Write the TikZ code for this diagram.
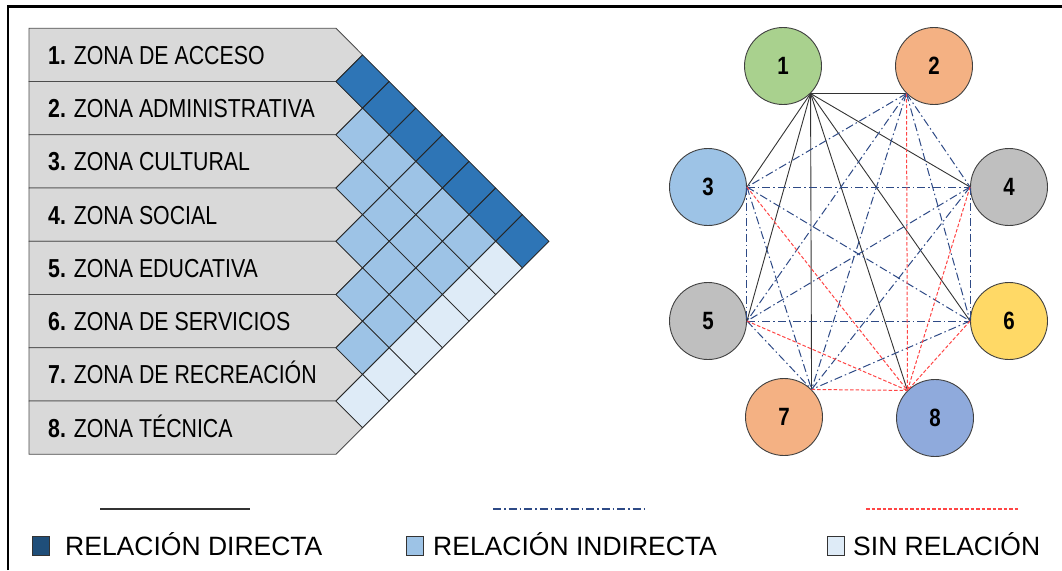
\documentclass[tikz,border=0pt]{standalone}
\usepackage{fontspec}
\setmainfont{Liberation Sans}
\newfontfamily\narrowsf{Liberation Sans}[FakeStretch=0.82]
\usepackage{tikz}

\definecolor{barfill}{HTML}{D9D9D9}
\definecolor{celldir}{HTML}{2E75B6}
\definecolor{cellind}{HTML}{9DC3E6}
\definecolor{cellsin}{HTML}{DEEBF7}
\definecolor{legdir}{HTML}{1F4E79}
\definecolor{linkind}{HTML}{2E4A86}
\definecolor{linksin}{HTML}{FF4545}
\definecolor{zgreen}{HTML}{A9D18E}
\definecolor{zorange}{HTML}{F4B183}
\definecolor{zblue}{HTML}{9DC3E6}
\definecolor{zgrey}{HTML}{BFBFBF}
\definecolor{zyellow}{HTML}{FFD966}
\definecolor{zperi}{HTML}{8FAADC}

\tikzset{
  zone/.style={circle,draw=black!75,line width=0.9pt,minimum size=77pt,inner sep=0pt,
    font=\narrowsf\fontsize{25}{25}\selectfont\bfseries},
  direct/.style={black!80,line width=0.9pt},
  indirect/.style={linkind,line width=1pt,dash pattern=on 8pt off 3pt on 1.5pt off 3pt},
  norel/.style={linksin,line width=1pt,dash pattern=on 3.5pt off 2pt},
  keybox/.style={draw=black!80,line width=0.8pt,minimum width=17pt,minimum height=19pt,inner sep=0pt},
  keytext/.style={anchor=base west,inner sep=0pt,font=\fontsize{26.5}{26.5}\selectfont},
}

\begin{document}
\begin{tikzpicture}[x=1pt,y=-1pt]
  \useasboundingbox (0,0) rectangle (1062,570);
  % frame, cut off at the right and the bottom
  \draw[line width=2.7pt] (8,570) -- (8,6.7) -- (1062,6.7);
  % --- zone bars ---
  \foreach \k/\txt in {1/ZONA DE ACCESO,2/ZONA ADMINISTRATIVA,3/ZONA CULTURAL,4/ZONA SOCIAL,5/ZONA EDUCATIVA,6/ZONA DE SERVICIOS,7/ZONA DE RECREACIÓN,8/ZONA TÉCNICA} {
    \pgfmathsetmacro{\yt}{28.3+53.25*(\k-1)}
    \pgfmathsetmacro{\yc}{\yt+26.625}
    \pgfmathsetmacro{\yb}{\yt+53.25}
    \filldraw[fill=barfill,draw=black!70,line width=0.8pt]
      (29,\yt) -- (336,\yt) -- (362.6,\yc) -- (336,\yb) -- (29,\yb) -- cycle;
    \node[anchor=base west,inner sep=0pt,font=\narrowsf\fontsize{26}{26}\selectfont]
      (bar\k) at (48,\yc+9.5) {\textbf{\k.} \txt};
  }
  % --- relation cells ---
  \foreach \i/\j/\c in {1/2/celldir,1/3/celldir,1/4/celldir,1/5/celldir,1/6/celldir,1/7/celldir,1/8/celldir,
      2/3/cellind,2/4/cellind,2/5/cellind,2/6/cellind,2/7/cellind,3/4/cellind,3/5/cellind,3/6/cellind,
      3/7/cellind,4/5/cellind,4/6/cellind,4/7/cellind,5/6/cellind,5/7/cellind,6/7/cellind,
      2/8/cellsin,3/8/cellsin,4/8/cellsin,5/8/cellsin,6/8/cellsin,7/8/cellsin} {
    \pgfmathsetmacro{\cx}{362.6+26.625*(\j-\i-1)}
    \pgfmathsetmacro{\cy}{28.3+26.625*(\i+\j-1)}
    \filldraw[fill=\c,draw=black!85,line width=0.8pt]
      (\cx-26.625,\cy) -- (\cx,\cy-26.625) -- (\cx+26.625,\cy) -- (\cx,\cy+26.625) -- cycle;
  }
  % --- zone graph ---
  \node[zone,fill=zgreen]  (z1) at (783,66)   {1};
  \node[zone,fill=zorange] (z2) at (934,66)   {2};
  \node[zone,fill=zblue]   (z3) at (708,187)  {3};
  \node[zone,fill=zgrey]   (z4) at (1009,187) {4};
  \node[zone,fill=zgrey]   (z5) at (708,321)  {5};
  \node[zone,fill=zyellow] (z6) at (1009,321) {6};
  \node[zone,fill=zorange] (z7) at (784,417)  {7};
  \node[zone,fill=zperi]   (z8) at (935,418)  {8};
  \coordinate (p1) at (z1.south east);
  \coordinate (p2) at (z2.south west);
  \coordinate (p3) at (z3.east);
  \coordinate (p4) at (z4.west);
  \coordinate (p5) at (z5.east);
  \coordinate (p6) at (z6.west);
  \coordinate (p7) at (z7.north east);
  \coordinate (p8) at (z8.north west);
  \foreach \j in {2,...,8} \draw[direct] (p1) -- (p\j);
  \foreach \i/\j in {2/3,2/4,2/5,2/6,2/7,3/4,3/5,3/6,3/7,4/5,4/6,4/7,5/6,5/7,6/7} \draw[indirect] (p\i) -- (p\j);
  \foreach \i in {2,...,7} \draw[norel] (p\i) -- (p8);
  % --- legend ---
  \coordinate (ld1) at (100,509); \coordinate (ld2) at (250,509);
  \coordinate (li1) at (493,509); \coordinate (li2) at (645,509);
  \coordinate (ls1) at (866,509); \coordinate (ls2) at (1018,509);
  \draw[direct,line width=1.2pt] (ld1) -- (ld2);
  \draw[indirect,line width=1.2pt] (li1) -- (li2);
  \draw[norel,line width=1.2pt] (ls1) -- (ls2);
  \node[keybox,fill=legdir] (kd) at (41,546)  {};
  \node[keybox,fill=cellind] (ki) at (415,546) {};
  \node[keybox,fill=cellsin] (ks) at (836,546) {};
  \node[keytext] (td) at (65,555)  {RELACIÓN DIRECTA};
  \node[keytext] (ti) at (433,555) {RELACIÓN INDIRECTA};
  \node[keytext] (ts) at (853,555) {SIN RELACIÓN};
\end{tikzpicture}
\end{document}
